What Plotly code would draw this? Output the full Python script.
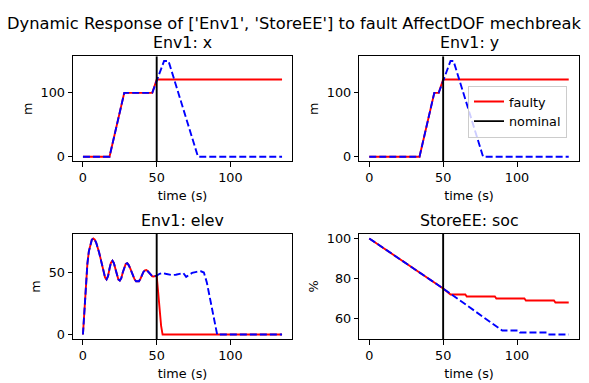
import plotly.graph_objects as go

# ---- time series (s) ----
# Env1: x position (m)
x_t_nominal = [0, 18, 28, 47, 55, 58, 78, 135]
x_nominal = [0, 0, 100, 100, 150, 150, 0, 0]
x_t_faulty = [0, 18, 28, 47, 50, 135]
x_faulty = [0, 0, 100, 100, 121, 121]

# Env1: y position (m)
y_t_nominal = [0, 34, 44, 47, 55, 57, 77, 135]
y_nominal = [0, 0, 100, 100, 150, 150, 0, 0]
y_t_faulty = [0, 34, 44, 47, 50, 135]
y_faulty = [0, 0, 100, 100, 121, 121]

# Env1: elevation (m)
elev_t_nominal = [0, 1, 2, 3, 4, 5, 6, 7, 8, 9, 10, 11, 12, 13, 14, 15, 16, 17, 18, 19,
                  20, 21, 22, 23, 24, 25, 26, 27, 28, 29, 30, 31, 32, 33, 34, 35, 36, 37,
                  38, 39, 40, 41, 42, 43, 44, 45, 46, 47, 48, 49, 50, 52, 54, 56, 58, 60,
                  63, 66, 68, 70, 72, 74, 77, 80, 82, 84, 86, 88, 90, 91, 135]
elev_nominal = [0, 22, 42, 57, 67, 73, 76.5, 77.5, 76.5, 74, 70.5, 66, 61, 55.5, 50, 46,
                44.5, 47, 53, 58, 59.5, 57.5, 53, 48, 44.5, 43.5, 45.5, 50, 54.5, 57, 57.5,
                56, 53.5, 50, 47, 44.5, 43, 42.8, 43, 45, 48, 50.5, 51.8, 52, 51, 49.5, 48,
                47, 46.8, 47, 47.5, 49, 49.7, 49, 48.3, 48, 48.2, 49.3, 49.7, 46.5, 48,
                49.7, 50.5, 51, 50, 42, 30, 17, 4, 0, 0]
elev_t_faulty = [0, 1, 2, 3, 4, 5, 6, 7, 8, 9, 10, 11, 12, 13, 14, 15, 16, 17, 18, 19,
                 20, 21, 22, 23, 24, 25, 26, 27, 28, 29, 30, 31, 32, 33, 34, 35, 36, 37,
                 38, 39, 40, 41, 42, 43, 44, 45, 46, 47, 48, 49, 50, 51, 52, 53, 54, 135]
elev_faulty = [0, 22, 42, 57, 67, 73, 76.5, 77.5, 76.5, 74, 70.5, 66, 61, 55.5, 50, 46,
               44.5, 47, 53, 58, 59.5, 57.5, 53, 48, 44.5, 43.5, 45.5, 50, 54.5, 57, 57.5,
               56, 53.5, 50, 47, 44.5, 43, 42.8, 43, 45, 48, 50.5, 51.8, 52, 51, 49.5, 48,
               47, 46.8, 47, 47.5, 34, 20, 7, 0, 0]

# StoreEE: state of charge (%)
soc_t_nominal = [0, 50, 90, 101, 102, 120, 121, 135]
soc_nominal = [100, 75, 54, 54, 53, 53, 52, 52]
soc_t_faulty = [0, 50, 55, 65, 66, 85, 86, 105, 106, 125, 126, 135]
soc_faulty = [100, 75, 72, 72, 71, 71, 70, 70, 69, 69, 68, 68]

fault_time = 50
x_ticks = [0, 50, 100]

panels = [
    # (title, unit, faulty t, faulty v, nominal t, nominal v, y ticks)
    ("Env1: x", "m", x_t_faulty, x_faulty, x_t_nominal, x_nominal, [0, 100]),
    ("Env1: y", "m", y_t_faulty, y_faulty, y_t_nominal, y_nominal, [0, 100]),
    ("Env1: elev", "m", elev_t_faulty, elev_faulty, elev_t_nominal, elev_nominal, [0, 50]),
    ("StoreEE: soc", "%", soc_t_faulty, soc_faulty, soc_t_nominal, soc_nominal, [60, 80, 100]),
]

W, H = 589, 383
FONT = "DejaVu Sans"
RED, BLUE, BLACK = "#ff0000", "#0000ff", "#000000"
LW = 1.9

# axes boxes in pixels: (left, right, top, bottom)
boxes = [(73, 292, 54, 161), (359.3, 578.7, 54, 161),
         (73, 292, 234.3, 341.7), (359.3, 578.7, 234.3, 341.7)]


def padded(lo, hi, frac=0.05):
    span = hi - lo
    return [lo - frac * span, hi + frac * span]


fig = go.Figure()
annotations = []
layout_axes = {}

for i, (title, unit, tf, vf, tn, vn, yt) in enumerate(panels):
    n = "" if i == 0 else str(i + 1)
    xa, ya = "x" + n, "y" + n
    left, right, top, bottom = boxes[i]
    xr = padded(min(tf + tn), max(tf + tn))
    yr = padded(min(vf + vn), max(vf + vn))

    fig.add_trace(go.Scatter(x=tf, y=vf, mode="lines", name="faulty",
                             line=dict(color=RED, width=LW),
                             showlegend=(i == 1), xaxis=xa, yaxis=ya))
    fig.add_trace(go.Scatter(x=tn, y=vn, mode="lines", name="nominal run",
                             line=dict(color=BLUE, width=LW, dash="7px,3px"),
                             showlegend=False, xaxis=xa, yaxis=ya))
    fig.add_trace(go.Scatter(x=[fault_time, fault_time], y=yr, mode="lines", name="nominal",
                             line=dict(color=BLACK, width=LW),
                             showlegend=(i == 1), xaxis=xa, yaxis=ya))

    common = dict(showline=True, mirror=True, linecolor="black", linewidth=1,
                  ticks="outside", ticklen=4.5, tickwidth=1, tickcolor="black",
                  showgrid=False, zeroline=False,
                  tickfont=dict(family=FONT, size=12.8, color="black"))
    layout_axes["xaxis" + n] = dict(common, domain=[left / W, right / W], range=xr,
                                    tickvals=x_ticks, anchor=ya,
                                    title=dict(text="time (s)", standoff=6,
                                               font=dict(family=FONT, size=12.8, color="black")))
    layout_axes["yaxis" + n] = dict(common, domain=[1 - bottom / H, 1 - top / H], range=yr,
                                    tickvals=yt, anchor=xa,
                                    title=dict(text=unit, standoff=5,
                                               font=dict(family=FONT, size=12.8, color="black")))
    annotations.append(dict(text=title, x=(left + right) / 2 / W, y=1 - (top - 2) / H,
                            xref="paper", yref="paper", xanchor="center", yanchor="bottom",
                            showarrow=False, font=dict(family=FONT, size=15.8, color="black")))

annotations.append(dict(text="Dynamic Response of ['Env1', 'StoreEE'] to fault AffectDOF mechbreak",
                        x=0.5, y=1 - 21 / H, xref="paper", yref="paper",
                        xanchor="center", yanchor="middle", showarrow=False,
                        font=dict(family=FONT, size=16.3, color="black")))

fig.update_layout(
    width=W, height=H,
    margin=dict(l=0, r=0, t=0, b=0),
    paper_bgcolor="white", plot_bgcolor="white",
    font=dict(family=FONT, size=12.8, color="black"),
    annotations=annotations,
    legend=dict(x=468 / W, y=1 - 84 / H, xanchor="left", yanchor="top",
                bgcolor="rgba(255,255,255,0.8)", bordercolor="#cccccc", borderwidth=1,
                font=dict(family=FONT, size=12.8, color="black"), itemwidth=30),
    **layout_axes,
)

fig.write_html("out.html")
